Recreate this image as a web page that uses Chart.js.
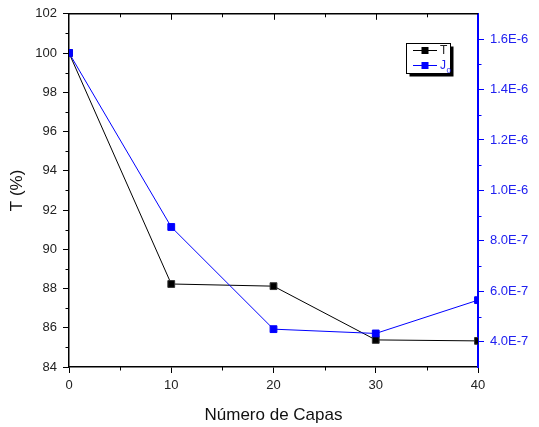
<!DOCTYPE html>
<html>
<head>
<meta charset="utf-8">
<script src="https://cdn.jsdelivr.net/npm/chart.js@4.4.0/dist/chart.umd.min.js"></script>
<style>
  html, body { margin: 0; padding: 0; background: #fff; }
  #wrap { width: 539px; height: 427px; }
</style>
</head>
<body>
<div id="wrap"><canvas id="chart" width="539" height="427"></canvas></div>
<script>
// Número de capas vs transmitancia y J0
const capas = [0, 10, 20, 30, 40];
const transmitancia = [100, 88.23, 88.12, 85.38, 85.33];
const j0 = [1.545e-6, 8.55e-7, 4.5e-7, 4.33e-7, 5.65e-7];

const xTicks = [0, 10, 20, 30, 40];
const xMinor = [5, 15, 25, 35];
const tTicks = [84, 86, 88, 90, 92, 94, 96, 98, 100, 102];
const tMinor = [85, 87, 89, 91, 93, 95, 97, 99, 101];
const jTicks = [4e-7, 6e-7, 8e-7, 1e-6, 1.2e-6, 1.4e-6, 1.6e-6];
const jMinor = [5e-7, 7e-7, 9e-7, 1.1e-6, 1.3e-6, 1.5e-6];

const BLUE = '#0000ff';
const FONT = "'Liberation Sans', Arial, sans-serif";

// small ticks between the labelled ones, plus the top frame with inward ticks
const frameTicks = {
    id: 'frameTicks',
    afterDraw(chart) {
        const ctx = chart.ctx;
        const { x, y, y1 } = chart.scales;
        const a = chart.chartArea;
        ctx.save();
        ctx.lineWidth = 1;
        ctx.strokeStyle = '#000';
        ctx.beginPath();
        tMinor.forEach(v => {
            const py = Math.round(y.getPixelForValue(v)) + 0.5;
            ctx.moveTo(a.left - 3.5, py);
            ctx.lineTo(a.left, py);
        });
        xMinor.forEach(v => {
            const px = Math.round(x.getPixelForValue(v)) + 0.5;
            ctx.moveTo(px, a.bottom);
            ctx.lineTo(px, a.bottom + 3.5);
            ctx.moveTo(px, a.top);
            ctx.lineTo(px, a.top + 3.5);
        });
        xTicks.slice(1, -1).forEach(v => {
            const px = Math.round(x.getPixelForValue(v)) + 0.5;
            ctx.moveTo(px, a.top);
            ctx.lineTo(px, a.top + 6);
        });
        ctx.stroke();

        ctx.lineWidth = 1.5;
        ctx.beginPath();
        ctx.moveTo(a.left, a.top);
        ctx.lineTo(a.right, a.top);
        ctx.stroke();

        ctx.lineWidth = 1;
        ctx.strokeStyle = BLUE;
        ctx.beginPath();
        jMinor.forEach(v => {
            const py = Math.round(y1.getPixelForValue(v)) + 0.5;
            ctx.moveTo(a.right, py);
            ctx.lineTo(a.right + 3.5, py);
        });
        ctx.stroke();
        ctx.restore();
    }
};

// framed legend with drop shadow
const boxLegend = {
    id: 'boxLegend',
    afterDraw(chart) {
        const ctx = chart.ctx;
        const bx = 406.5, by = 43.5, bw = 44, bh = 30;
        ctx.save();
        ctx.fillStyle = '#000';
        ctx.fillRect(bx + 3, by + 3, bw, bh);
        ctx.fillStyle = '#fff';
        ctx.fillRect(bx, by, bw, bh);
        ctx.strokeStyle = '#000';
        ctx.lineWidth = 1;
        ctx.strokeRect(bx, by, bw, bh);

        const rows = [
            { ds: chart.data.datasets[0], y: 50.5, label: 'T', sub: '' },
            { ds: chart.data.datasets[1], y: 65.5, label: 'J', sub: '0' }
        ];
        rows.forEach(r => {
            ctx.strokeStyle = r.ds.borderColor;
            ctx.beginPath();
            ctx.moveTo(413, r.y);
            ctx.lineTo(437, r.y);
            ctx.stroke();
            ctx.fillStyle = r.ds.borderColor;
            ctx.fillRect(421.5, r.y - 3.5, 7, 7);
            ctx.fillStyle = r.ds.borderColor === BLUE ? '#2020f0' : '#222';
            ctx.font = '12px ' + FONT;
            ctx.textBaseline = 'middle';
            ctx.textAlign = 'left';
            ctx.fillText(r.label, 440, r.y);
            if (r.sub) {
                const w = ctx.measureText(r.label).width;
                ctx.font = '8px ' + FONT;
                ctx.fillText(r.sub, 440 + w + 0.5, r.y + 5);
            }
        });
        ctx.restore();
    }
};

new Chart(document.getElementById('chart'), {
    type: 'line',
    data: {
        labels: capas,
        datasets: [{
            label: 'T',
            data: capas.map((c, i) => ({ x: c, y: transmitancia[i] })),
            yAxisID: 'y',
            borderColor: '#000',
            backgroundColor: '#000',
            borderWidth: 1,
            pointStyle: 'rect',
            pointRadius: 4.8,
            pointBorderWidth: 1,
            pointBorderColor: '#333',
            tension: 0,
            clip: 0,
            order: 1
        }, {
            label: 'J0',
            data: capas.map((c, i) => ({ x: c, y: j0[i] })),
            yAxisID: 'y1',
            borderColor: BLUE,
            backgroundColor: BLUE,
            borderWidth: 1,
            pointStyle: 'rect',
            pointRadius: 4.8,
            pointBorderWidth: 1,
            pointBorderColor: BLUE,
            tension: 0,
            clip: 0,
            order: 0
        }]
    },
    options: {
        responsive: false,
        animation: false,
        devicePixelRatio: 1,
        layout: { padding: { top: 13, left: 0, right: 0, bottom: 0 } },
        plugins: {
            legend: { display: false },
            tooltip: { enabled: false }
        },
        scales: {
            x: {
                type: 'linear',
                position: 'bottom',
                min: 0,
                max: 40,
                afterBuildTicks: s => { s.ticks = xTicks.map(v => ({ value: v })); },
                afterFit: s => { s.height = 60; },
                grid: { display: true, drawOnChartArea: false, tickLength: 6, tickColor: '#000', tickWidth: 1 },
                border: { display: true, color: '#000', width: 1.5 },
                ticks: { color: '#222', padding: 5, font: { family: FONT, size: 13 }, maxRotation: 0 },
                title: {
                    display: true,
                    text: 'Número de Capas',
                    color: '#111',
                    font: { family: FONT, size: 17 },
                    padding: { top: 0, bottom: 1 }
                }
            },
            y: {
                type: 'linear',
                position: 'left',
                min: 84,
                max: 102,
                afterBuildTicks: s => { s.ticks = tTicks.map(v => ({ value: v })); },
                afterFit: s => { s.width = 69; },
                grid: { display: true, drawOnChartArea: false, tickLength: 6, tickColor: '#000', tickWidth: 1 },
                border: { display: true, color: '#000', width: 1.5 },
                ticks: { color: '#222', padding: 6, font: { family: FONT, size: 13 } },
                title: {
                    display: true,
                    text: 'T (%)',
                    color: '#111',
                    font: { family: FONT, size: 17 },
                    padding: { top: 7, bottom: 0 }
                }
            },
            y1: {
                type: 'linear',
                position: 'right',
                min: 3e-7,
                max: 1.7e-6,
                afterBuildTicks: s => { s.ticks = jTicks.map(v => ({ value: v })); },
                afterFit: s => { s.width = 61; },
                grid: { display: true, drawOnChartArea: false, tickLength: 6, tickColor: BLUE, tickWidth: 1 },
                border: { display: true, color: BLUE, width: 2 },
                ticks: {
                    color: '#2020f0',
                    padding: 6,
                    font: { family: FONT, size: 13 },
                    callback: v => v.toExponential(1).toUpperCase()
                }
            }
        }
    },
    plugins: [frameTicks, boxLegend]
});
</script>
</body>
</html>
